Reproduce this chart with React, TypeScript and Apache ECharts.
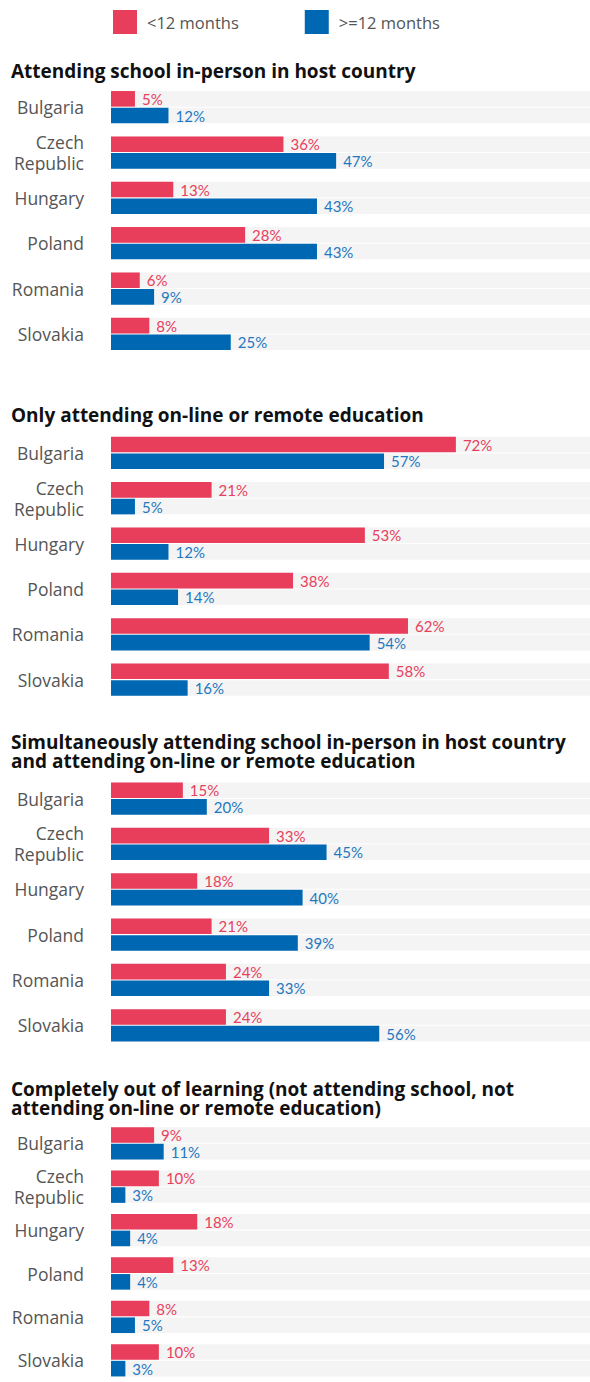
import React, { useEffect, useRef } from "react";
import * as echarts from "echarts";

const countries = ["Bulgaria", "Czech\nRepublic", "Hungary", "Poland", "Romania", "Slovakia"];
const seriesNames = ["<12 months", ">=12 months"];
const sectionTitles = [
  "Attending school in-person in host country",
  "Only attending on-line or remote education",
  "Simultaneously attending school in-person in host country\nand attending on-line or remote education",
  "Completely out of learning (not attending school, not\nattending on-line or remote education)",
];
const under12 = [
  [5, 36, 13, 28, 6, 8],
  [72, 21, 53, 38, 62, 58],
  [15, 33, 18, 21, 24, 24],
  [9, 10, 18, 13, 8, 10],
];
const over12 = [
  [12, 47, 43, 43, 9, 25],
  [57, 5, 12, 14, 54, 16],
  [20, 45, 40, 39, 33, 56],
  [11, 3, 4, 4, 5, 3],
];

const RED = "#e83d5b";
const BLUE = "#0068b3";
const RED_TXT = "#e8405c";
const BLUE_TXT = "#1f78c1";
const FONT = "'Open Sans', sans-serif";
const NUM_FONT = "Lato, sans-serif";

export default function App() {
  const ref = useRef<HTMLDivElement>(null);
  useEffect(() => {
    if (!ref.current) return;
    const chart = echarts.init(ref.current, undefined, { renderer: "svg" });
    const gridTops = [84.5, 430.2, 775.9, 1121.6];
    const titleTops = [61, 405, 732, 1079];
    const bandH = 45.35;
    const grids = gridTops.map((t) => ({ left: 111, top: t, width: 480, height: bandH * 6 }));
    const xAxes = grids.map((_, i) => ({
      type: "value",
      gridIndex: i,
      min: 0,
      max: 100,
      show: false,
    }));
    const yAxes = grids.map((_, i) => ({
      type: "category",
      gridIndex: i,
      data: countries,
      inverse: true,
      axisLine: { show: false },
      axisTick: { show: false },
      axisLabel: {
        color: "#555555",
        fontSize: 17.5,
        lineHeight: 21,
        fontFamily: FONT,
        margin: 27,
        align: "right",
      },
    }));
    const series: any[] = [];
    [under12, over12].forEach((arr, si) => {
      arr.forEach((vals, gi) => {
        series.push({
          type: "bar",
          name: seriesNames[si],
          xAxisIndex: gi,
          yAxisIndex: gi,
          data: vals,
          barWidth: 15.6,
          barGap: "7%",
          itemStyle: { color: si === 0 ? RED : BLUE },
          showBackground: true,
          backgroundStyle: { color: "#f4f4f4" },
          label: {
            show: true,
            position: "right",
            distance: 7,
            formatter: "{c}%",
            color: si === 0 ? RED_TXT : BLUE_TXT,
            fontSize: 15,
            fontFamily: NUM_FONT,
          },
        });
      });
    });
    chart.setOption({
      animation: false,
      legend: {
        data: seriesNames,
        left: 113,
        top: 10,
        itemWidth: 24,
        itemHeight: 24,
        itemGap: 66,
        icon: "rect",
        padding: 0,
        textStyle: {
          color: "#555555",
          fontSize: 16.5,
          fontFamily: FONT,
          padding: [0, 0, 0, 5],
        },
        selectedMode: false,
      },
      title: sectionTitles.map((t, i) => ({
        text: t,
        left: 11,
        top: titleTops[i],
        padding: 0,
        textStyle: {
          fontSize: 19,
          lineHeight: 19,
          fontWeight: "bold",
          color: "#111111",
          fontFamily: FONT,
        },
      })),
      grid: grids,
      xAxis: xAxes,
      yAxis: yAxes,
      series,
    });
    return () => chart.dispose();
  }, []);
  return (
    <div
      ref={ref}
      style={{ position: "absolute", left: 0, top: 0, width: 590, height: 1382, background: "#fff" }}
    />
  );
}
